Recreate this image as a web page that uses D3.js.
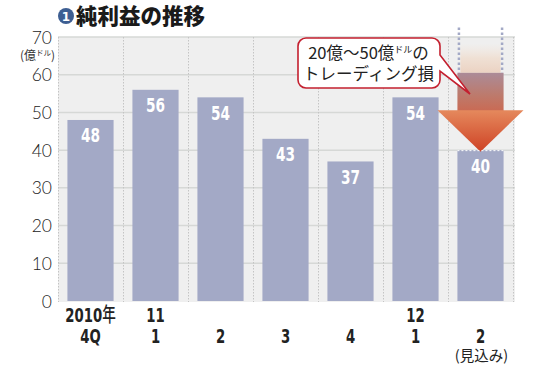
<!DOCTYPE html>
<html><head><meta charset="utf-8">
<script src="https://cdn.jsdelivr.net/npm/d3@7"></script>
<style>
body{margin:0;background:#fff;}
svg{display:block;}
</style></head>
<body>
<svg id="c" width="550" height="365"></svg>
<script>
// ---- data ----
const categories = ["2010Q4","2011Q1","2011Q2","2011Q3","2011Q4","2012Q1","2012Q2"];
const yearRow    = ["2010年","11","","","","12",""];
const quarterRow = ["4Q","1","2","3","4","1","2"];
const noteRow    = ["","","","","","","(見込み)"];
const netIncome  = [48,56,54,43,37,54,40];
const yTicks     = [0,10,20,30,40,50,60,70];
const titleText  = "純利益の推移";
const unitText   = ["(億","ドル",")"];
const calloutLines = [["20億〜50億","ドル","の"],["トレーディング損","",""]];
// forecast-loss arrow (value units)
const arrowHeadTop = 50.6;
const ghostTop = 72.5;
const solidTop = 60.5;

const svg = d3.select("#c");
const L = 58, R = 513, T = 37, B = 301;
const x = d3.scaleBand().domain(categories).range([L,R]).paddingInner(0.29).paddingOuter(0.145);
const y = d3.scaleLinear().domain([0,70]).range([B,T]);

const numFont = "'DejaVu Sans',sans-serif";
const jp = "'Noto Sans CJK JP','Noto Sans',sans-serif";

// background
svg.append("rect").attr("x",L).attr("y",T).attr("width",R-L+2).attr("height",B-T+1).attr("fill","#efefef");

// horizontal gridlines
svg.append("g").selectAll("line").data(yTicks.filter(d=>d>0)).join("line")
  .attr("x1",L).attr("x2",R+2).attr("y1",d=>y(d)).attr("y2",d=>y(d))
  .attr("stroke","#d6d8d6").attr("stroke-width",1.5);

// vertical dotted band boundaries
const bounds = categories.map(c=>x(c)-x.step()*x.paddingInner()/2).concat([R]);
bounds[0]=L;
svg.append("g").selectAll("line").data(bounds).join("line")
  .attr("x1",d=>d+0.5).attr("x2",d=>d+0.5).attr("y1",T).attr("y2",B+1)
  .attr("stroke","#c4c4c4").attr("stroke-width",1).attr("stroke-dasharray","1.5,1.5");

// y axis labels
const yAxis = d3.axisLeft(y).tickValues(yTicks).tickSize(0).tickPadding(0);
const ga = svg.append("g").attr("transform",`translate(52,0)`).call(yAxis);
ga.select(".domain").remove();
ga.selectAll("text").attr("font-family","Lato,'Noto Sans',sans-serif").attr("font-weight",300)
  .attr("font-size",17.5).attr("fill","#222").attr("dy","0.35em");

// unit
const ut = svg.append("text").attr("x",55).attr("y",60).attr("text-anchor","end")
  .attr("font-family",jp).attr("font-size",12).attr("fill","#333");
ut.append("tspan").text(unitText[0]);
ut.append("tspan").attr("font-size",7.5).attr("dy",-4).text(unitText[1]);
ut.append("tspan").attr("dy",4).text(unitText[2]);

// bars
svg.append("g").selectAll("rect").data(netIncome).join("rect")
  .attr("x",(d,i)=>x(categories[i])).attr("width",x.bandwidth())
  .attr("y",d=>y(d)).attr("height",d=>B-y(d)).attr("fill","#a3a9c6");

// forecast arrow on last bar
const lastVal = netIncome[netIncome.length-1];
const last = categories[categories.length-1];
const bx = x(last), bw = x.bandwidth(), cx = bx+bw/2;
const defs = svg.append("defs");
const gf = defs.append("linearGradient").attr("id","fade").attr("gradientUnits","userSpaceOnUse")
  .attr("x1",0).attr("x2",0).attr("y1",y(ghostTop)+16).attr("y2",y(solidTop));
gf.append("stop").attr("offset",0).attr("stop-color","#f3e3d6").attr("stop-opacity",0);
gf.append("stop").attr("offset",0.5).attr("stop-color","#efdccd").attr("stop-opacity",0.8);
gf.append("stop").attr("offset",1).attr("stop-color","#ebd2c2").attr("stop-opacity",1);
const gs = defs.append("linearGradient").attr("id","shaft").attr("gradientUnits","userSpaceOnUse")
  .attr("x1",0).attr("x2",0).attr("y1",y(solidTop)).attr("y2",y(arrowHeadTop));
gs.append("stop").attr("offset",0).attr("stop-color","#ab8b98");
gs.append("stop").attr("offset",0.6).attr("stop-color","#bd7a6c");
gs.append("stop").attr("offset",1).attr("stop-color","#c96b55");
const gh = defs.append("linearGradient").attr("id","head").attr("gradientUnits","userSpaceOnUse")
  .attr("x1",0).attr("x2",0).attr("y1",y(arrowHeadTop)).attr("y2",y(lastVal));
gh.append("stop").attr("offset",0).attr("stop-color","#e5895d");
gh.append("stop").attr("offset",1).attr("stop-color","#cf4527");

// ghost dotted lines
[bx+1.5, bx+bw-1.5].forEach(xx=>{
  svg.append("line").attr("x1",xx).attr("x2",xx).attr("y1",y(ghostTop)).attr("y2",y(solidTop))
    .attr("stroke","#a3a9c6").attr("stroke-width",2.5).attr("stroke-dasharray","2.5,2.5");
});
svg.append("rect").attr("x",bx+3).attr("width",bw-6).attr("y",y(ghostTop)+16)
  .attr("height",y(solidTop)-y(ghostTop)-16).attr("fill","url(#fade)");
svg.append("rect").attr("x",bx).attr("width",bw).attr("y",y(solidTop))
  .attr("height",y(arrowHeadTop)-y(solidTop)+1).attr("fill","url(#shaft)");
const headHalf = 43;
svg.append("path").attr("d",
  `M${cx-headHalf},${y(arrowHeadTop)} L${cx+headHalf},${y(arrowHeadTop)} L${cx},${y(lastVal)+1.5} Z`)
  .attr("fill","url(#head)");
svg.append("line").attr("x1",bx).attr("x2",bx+bw).attr("y1",y(lastVal)+0.5).attr("y2",y(lastVal)+0.5)
  .attr("stroke","#fff").attr("stroke-width",1).attr("stroke-dasharray","2,2");

// bar value labels (condensed)
svg.append("g").selectAll("text").data(netIncome).join("text")
  .attr("transform",(d,i)=>`translate(${x(categories[i])+x.bandwidth()/2},${y(d)+22.5}) scale(0.72,1)`)
  .attr("text-anchor","middle").attr("font-family",numFont).attr("font-weight","bold")
  .attr("font-size",19).attr("fill","#fff").text(d=>d);

// x labels
const xc = i => x(categories[i])+x.bandwidth()/2;
function numRow(arr, base){
  svg.append("g").selectAll("text").data(arr).join("text")
    .attr("transform",(d,i)=>`translate(${xc(i)},${base}) scale(0.68,1)`)
    .attr("text-anchor","middle").attr("font-family",numFont).attr("font-weight","bold")
    .attr("font-size",19.5).attr("fill","#222")
    .each(function(d){
      const t=d3.select(this);
      if(d.indexOf("年")>=0){
        t.append("tspan").text(d.replace("年",""));
        t.append("tspan").attr("font-family",jp).attr("font-weight",500).attr("font-size",20).text("年");
      } else t.text(d);
    });
}
numRow(yearRow,322);
numRow(quarterRow,343);
svg.append("g").selectAll("text").data(noteRow).join("text")
  .attr("x",(d,i)=>xc(i)+1).attr("y",361).attr("text-anchor","middle")
  .attr("font-family",jp).attr("font-size",14.5).attr("fill","#222").text(d=>d);

// callout
const bx0=298, by0=38, bx1=440, by1=88, r=8;
svg.append("path").attr("d",
  `M${bx0+r},${by0} H${bx1-r} A${r},${r} 0 0 1 ${bx1},${by0+r} V55 L470,94 L${bx1},71 V${by1-r} A${r},${r} 0 0 1 ${bx1-r},${by1} H${bx0+r} A${r},${r} 0 0 1 ${bx0},${by1-r} V${by0+r} A${r},${r} 0 0 1 ${bx0+r},${by0} Z`)
  .attr("fill","#fff").attr("stroke","#c4202f").attr("stroke-width",1.6);
calloutLines.forEach((ln,i)=>{
  const t = svg.append("text").attr("x",368.5).attr("y",59+i*21).attr("text-anchor","middle")
    .attr("font-family",jp).attr("font-size",16.5).attr("fill","#222");
  t.append("tspan").text(ln[0]);
  if(ln[1]){ t.append("tspan").attr("font-size",9).attr("dy",-6).text(ln[1]);
    t.append("tspan").attr("dy",6).text(ln[2]); }
});

// title
svg.append("circle").attr("cx",66).attr("cy",16).attr("r",8).attr("fill","#3d5e92");
svg.append("text").attr("x",66).attr("y",20.5).attr("text-anchor","middle").attr("font-family","'DejaVu Sans',sans-serif")
  .attr("font-weight","bold").attr("font-size",12).attr("fill","#fff").text("1");
svg.append("text").attr("x",76).attr("y",24).attr("font-family",jp).attr("font-weight",900)
  .attr("font-size",21.5).attr("fill","#1a1a1a").text(titleText);
</script>
</body></html>
